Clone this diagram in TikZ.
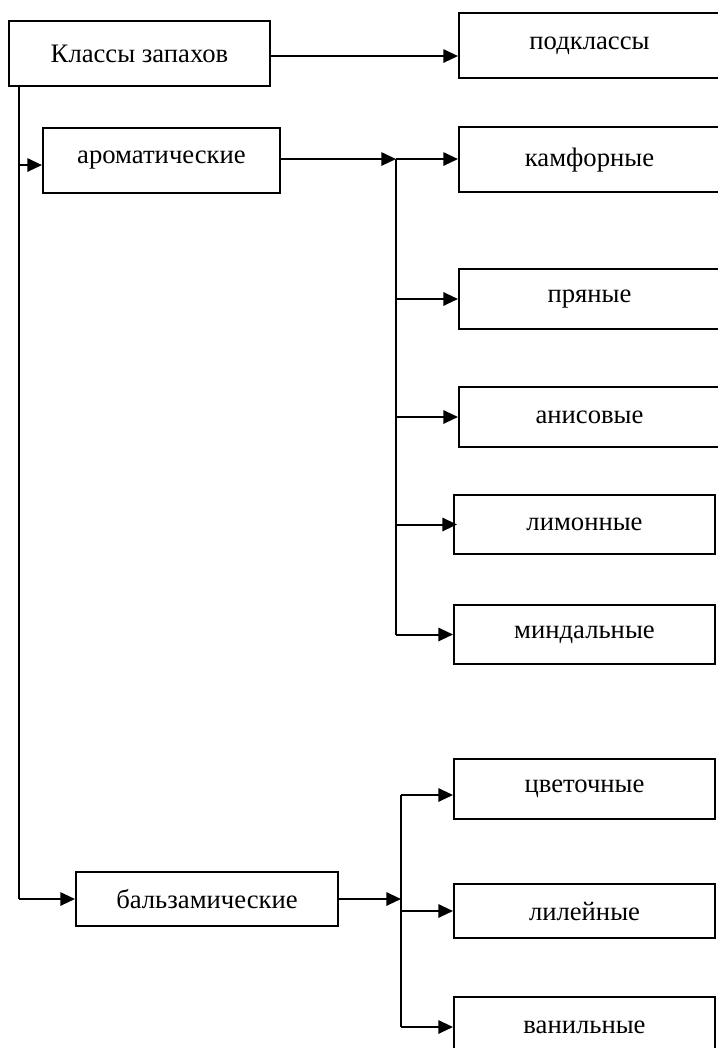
\documentclass[tikz,border=0pt]{standalone}
\usepackage{fontspec}
\setmainfont{Liberation Serif}
\usetikzlibrary{arrows.meta}
\begin{document}
\begin{tikzpicture}[x=0.75pt,y=-0.75pt,
  box/.style={draw,line width=1.5pt,inner sep=0pt,font=\fontsize{20}{24}\selectfont},
  arr/.style={line width=1.5pt,-{Triangle[length=11pt,width=10pt]}},
  ln/.style={line width=1.5pt}]
\useasboundingbox (0,0) rectangle (717,1048);
% nodes
\node[box,minimum width=261*0.75pt,minimum height=65*0.75pt] (kl) at (139.5,53.5) {Классы запахов};
\node[box,minimum width=237*0.75pt,minimum height=65*0.75pt] (aro) at (161.5,160.5) {ароматические};
\node[box,minimum width=262*0.75pt,minimum height=54*0.75pt] (bal) at (207,899) {бальзамические};
\node[box,minimum width=261*0.75pt,minimum height=65*0.75pt] (pod) at (589.5,45.75) {подклассы};
\node[box,minimum width=261*0.75pt,minimum height=65*0.75pt] (kam) at (589.5,160) {камфорные};
\node[box,minimum width=261*0.75pt,minimum height=60*0.75pt] (pry) at (589.5,299) {пряные};
\node[box,minimum width=261*0.75pt,minimum height=60*0.75pt] (ani) at (589.5,417) {анисовые};
\node[box,minimum width=261*0.75pt,minimum height=59*0.75pt] (lim) at (584.5,524.5) {лимонные};
\node[box,minimum width=261*0.75pt,minimum height=59*0.75pt] (min) at (584.5,634.5) {миндальные};
\node[box,minimum width=261*0.75pt,minimum height=60*0.75pt] (cve) at (584.5,789) {цветочные};
\node[box,minimum width=261*0.75pt,minimum height=54*0.75pt] (lil) at (584.5,911) {лилейные};
\node[box,minimum width=261*0.75pt,minimum height=60*0.75pt] (van) at (584.5,1027) {ванильные};
% trunk and branch columns
\coordinate (tr) at (19,0);
\coordinate (b1) at (396,0);
\coordinate (b2) at (401,0);
% connectors
\draw[arr] ([yshift=-1.9pt]kl.east) -- ([yshift=-1.9pt]kl.east -| pod.west);
\draw[ln] (kl.south -| tr) -- (tr |- bal.west);
\draw[arr] (tr |- bal.west) -- (bal.west);
\draw[arr] ([yshift=-3.4pt]aro.west -| tr) -- ([yshift=-3.4pt]aro.west);
\draw[arr] ([yshift=1.1pt]aro.east) -- ([yshift=1.1pt]aro.east -| b1);
\draw[ln] ([yshift=1.1pt]b1 |- aro.east) -- (b1 |- min.west);
\draw[arr] ([yshift=1.1pt]b1 |- aro.east) -- ([yshift=1.1pt]aro.east -| kam.west);
\draw[arr] (b1 |- pry.west) -- (pry.west);
\draw[arr] (b1 |- ani.west) -- (ani.west);
\draw[arr] (b1 |- lim.west) -- ([xshift=3pt]lim.west);
\draw[arr] (b1 |- min.west) -- (min.west);
\draw[arr] (bal.east) -- (bal.east -| b2);
\draw[ln] ([yshift=-4.5pt]b2 |- cve.west) -- (b2 |- van.west);
\draw[arr] ([yshift=-4.5pt]b2 |- cve.west) -- ([yshift=-4.5pt]cve.west);
\draw[arr] (b2 |- lil.west) -- (lil.west);
\draw[arr] (b2 |- van.west) -- (van.west);
\end{tikzpicture}
\end{document}
